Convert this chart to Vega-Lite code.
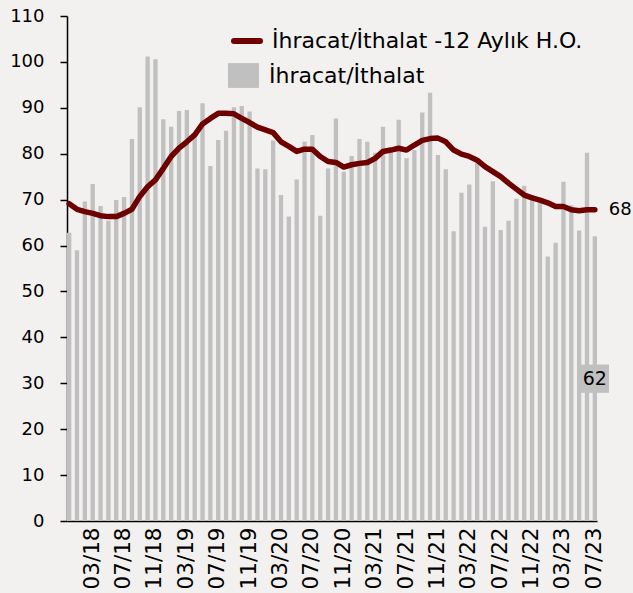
{
  "$schema": "https://vega.github.io/schema/vega-lite/v6.json",
  "width": 530,
  "height": 505,
  "autosize": "none",
  "padding": {"left": 67, "top": 16, "right": 36, "bottom": 72},
  "background": "#f2f1ef",
  "config": {
    "view": {"stroke": null},
    "font": "DejaVu Sans",
    "axis": {"labelColor": "#000", "domainColor": "#000", "tickColor": "#000", "grid": false, "labelFont": "DejaVu Sans"},
    "legend": {"labelFont": "DejaVu Sans", "labelColor": "#000", "labelLimit": 0}
  },
  "data": {
    "values": [
      {"m": "12/17", "r": 62.8, "ho": 69.1},
      {"m": "01/18", "r": 59.0, "ho": 67.9},
      {"m": "02/18", "r": 69.6, "ho": 67.4},
      {"m": "03/18", "r": 73.4, "ho": 67.0},
      {"m": "04/18", "r": 68.6, "ho": 66.5},
      {"m": "05/18", "r": 65.4, "ho": 66.3},
      {"m": "06/18", "r": 69.9, "ho": 66.3},
      {"m": "07/18", "r": 70.6, "ho": 67.0},
      {"m": "08/18", "r": 83.2, "ho": 67.9},
      {"m": "09/18", "r": 90.1, "ho": 70.7},
      {"m": "10/18", "r": 101.2, "ho": 72.8},
      {"m": "11/18", "r": 100.6, "ho": 74.3},
      {"m": "12/18", "r": 87.5, "ho": 76.8},
      {"m": "01/19", "r": 85.9, "ho": 79.4},
      {"m": "02/19", "r": 89.3, "ho": 81.2},
      {"m": "03/19", "r": 89.5, "ho": 82.6},
      {"m": "04/19", "r": 84.0, "ho": 84.1},
      {"m": "05/19", "r": 91.0, "ho": 86.5},
      {"m": "06/19", "r": 77.3, "ho": 87.7},
      {"m": "07/19", "r": 83.0, "ho": 88.8},
      {"m": "08/19", "r": 85.0, "ho": 88.8},
      {"m": "09/19", "r": 90.1, "ho": 88.7},
      {"m": "10/19", "r": 90.4, "ho": 87.7},
      {"m": "11/19", "r": 89.2, "ho": 86.8},
      {"m": "12/19", "r": 76.8, "ho": 85.8},
      {"m": "01/20", "r": 76.6, "ho": 85.2},
      {"m": "02/20", "r": 82.9, "ho": 84.6},
      {"m": "03/20", "r": 71.0, "ho": 82.6},
      {"m": "04/20", "r": 66.3, "ho": 81.6},
      {"m": "05/20", "r": 74.4, "ho": 80.5},
      {"m": "06/20", "r": 82.6, "ho": 81.0},
      {"m": "07/20", "r": 84.1, "ho": 81.0},
      {"m": "08/20", "r": 66.5, "ho": 79.4},
      {"m": "09/20", "r": 76.8, "ho": 78.3},
      {"m": "10/20", "r": 87.7, "ho": 78.1},
      {"m": "11/20", "r": 76.1, "ho": 77.1},
      {"m": "12/20", "r": 79.5, "ho": 77.6},
      {"m": "01/21", "r": 83.2, "ho": 77.9},
      {"m": "02/21", "r": 82.6, "ho": 78.1},
      {"m": "03/21", "r": 80.2, "ho": 79.0},
      {"m": "04/21", "r": 85.9, "ho": 80.5},
      {"m": "05/21", "r": 80.5, "ho": 80.8},
      {"m": "06/21", "r": 87.4, "ho": 81.2},
      {"m": "07/21", "r": 79.0, "ho": 80.8},
      {"m": "08/21", "r": 80.8, "ho": 81.9},
      {"m": "09/21", "r": 89.0, "ho": 82.9},
      {"m": "10/21", "r": 93.3, "ho": 83.3},
      {"m": "11/21", "r": 79.7, "ho": 83.4},
      {"m": "12/21", "r": 76.6, "ho": 82.6},
      {"m": "01/22", "r": 63.1, "ho": 80.8},
      {"m": "02/22", "r": 71.5, "ho": 79.9},
      {"m": "03/22", "r": 73.3, "ho": 79.4},
      {"m": "04/22", "r": 78.0, "ho": 78.6},
      {"m": "05/22", "r": 64.1, "ho": 77.2},
      {"m": "06/22", "r": 74.0, "ho": 76.1},
      {"m": "07/22", "r": 63.4, "ho": 75.0},
      {"m": "08/22", "r": 65.4, "ho": 73.6},
      {"m": "09/22", "r": 70.2, "ho": 72.3},
      {"m": "10/22", "r": 73.0, "ho": 71.0},
      {"m": "11/22", "r": 71.0, "ho": 70.4},
      {"m": "12/22", "r": 69.4, "ho": 69.9},
      {"m": "01/23", "r": 57.6, "ho": 69.3},
      {"m": "02/23", "r": 60.6, "ho": 68.5},
      {"m": "03/23", "r": 73.9, "ho": 68.5},
      {"m": "04/23", "r": 68.8, "ho": 67.8},
      {"m": "05/23", "r": 63.3, "ho": 67.6},
      {"m": "06/23", "r": 80.2, "ho": 67.8},
      {"m": "07/23", "r": 62.0, "ho": 67.8}
    ]
  },
  "encoding": {
    "x": {
      "field": "m",
      "type": "ordinal",
      "sort": null,
      "scale": {"paddingInner": 0.45, "paddingOuter": 0},
      "axis": {
        "title": null,
        "values": ["03/18", "07/18", "11/18", "03/19", "07/19", "11/19", "03/20", "07/20", "11/20", "03/21", "07/21", "11/21", "03/22", "07/22", "11/22", "03/23", "07/23"],
        "labelAngle": -90,
        "labelFontSize": 21.5,
        "ticks": false,
        "domainWidth": 1.5,
        "labelPadding": 6
      }
    }
  },
  "layer": [
    {
      "mark": {"type": "bar"},
      "encoding": {
        "y": {
          "field": "r",
          "type": "quantitative",
          "scale": {"domain": [0, 110], "nice": false, "zero": true},
          "axis": {"title": null, "values": [0, 10, 20, 30, 40, 50, 60, 70, 80, 90, 100, 110], "labelFontSize": 18, "tickSize": 7, "tickWidth": 1.5, "domainWidth": 1.5, "labelPadding": 16}
        },
        "fill": {
          "datum": "İhracat/İthalat",
          "scale": {"range": ["#c0c0c0"]},
          "legend": {
            "title": null,
            "orient": "none",
            "legendX": 161,
            "legendY": 44,
            "padding": 0,
            "symbolType": "M-1,-0.8H1V0.8H-1Z",
            "symbolSize": 961,
            "symbolStrokeWidth": 0,
            "symbolOpacity": 1,
            "labelFontSize": 22,
            "labelOffset": 10
          }
        }
      }
    },
    {
      "mark": {"type": "line", "strokeWidth": 5.5, "strokeCap": "round", "strokeJoin": "round"},
      "encoding": {
        "y": {"field": "ho", "type": "quantitative", "title": null},
        "stroke": {
          "datum": "İhracat/İthalat -12 Aylık H.O.",
          "scale": {"range": ["#6e0000"]},
          "legend": {
            "title": null,
            "orient": "none",
            "legendX": 164,
            "legendY": 9,
            "padding": 0,
            "symbolType": "stroke",
            "symbolSize": 676,
            "symbolStrokeWidth": 6,
            "labelFontSize": 22,
            "labelOffset": 9,
            "encode": {"symbols": {"update": {"strokeCap": {"value": "round"}}}}
          }
        }
      }
    },
    {
      "transform": [{"filter": "datum.m === '07/23'"}],
      "mark": {"type": "text", "align": "left", "baseline": "middle", "dx": 14, "fontSize": 18, "color": "#000"},
      "encoding": {
        "y": {"field": "ho", "type": "quantitative"},
        "text": {"field": "ho", "type": "quantitative", "format": ".0f"}
      }
    },
    {
      "transform": [{"filter": "datum.m === '07/23'"}],
      "mark": {"type": "point", "shape": "square", "filled": true, "color": "#c0c0c0", "size": 800, "opacity": 1},
      "encoding": {"y": {"datum": 31}}
    },
    {
      "transform": [{"filter": "datum.m === '07/23'"}],
      "mark": {"type": "text", "align": "center", "baseline": "middle", "fontSize": 19, "color": "#000"},
      "encoding": {
        "y": {"datum": 31},
        "text": {"field": "r", "type": "quantitative", "format": ".0f"}
      }
    }
  ]
}
